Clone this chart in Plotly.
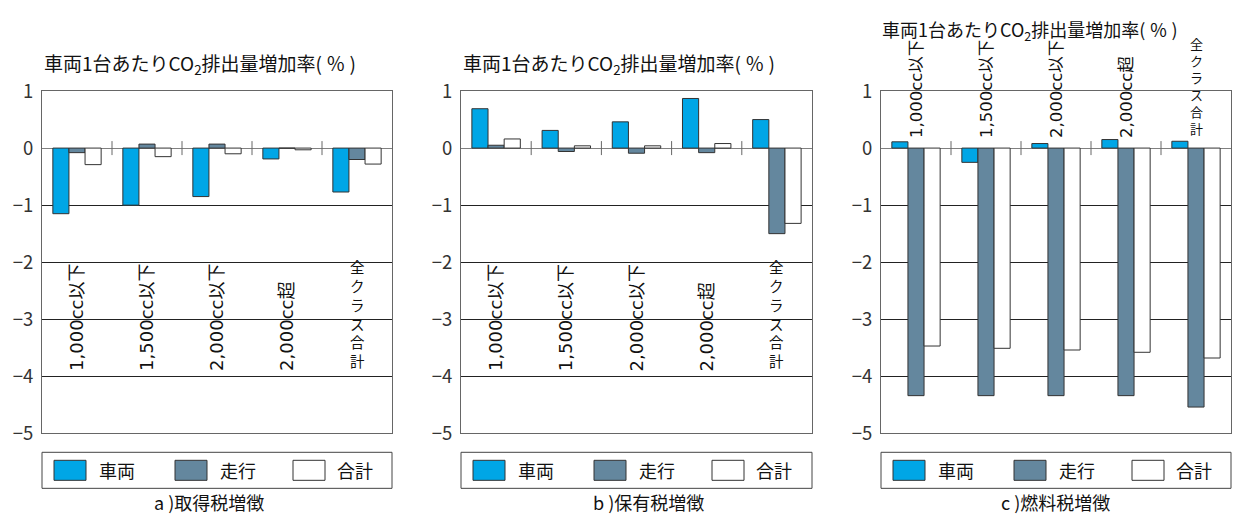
import plotly.graph_objects as go

# ---------------- data ----------------
categories = ["1,000cc以下", "1,500cc以下", "2,000cc以下", "2,000cc超", "全クラス合計"]
series_names = ["車両", "走行", "合計"]
series_colors = ["#00A6E6", "#64879E", "#FFFFFF"]

a_vehicle = [-1.15, -1.00, -0.85, -0.19, -0.77]
a_driving = [-0.08, 0.07, 0.07, 0.00, -0.20]
a_total = [-0.29, -0.15, -0.10, -0.03, -0.28]

b_vehicle = [0.69, 0.31, 0.46, 0.87, 0.50]
b_driving = [0.05, -0.06, -0.09, -0.08, -1.50]
b_total = [0.16, 0.04, 0.04, 0.08, -1.32]

c_vehicle = [0.11, -0.25, 0.08, 0.15, 0.12]
c_driving = [-4.34, -4.34, -4.34, -4.34, -4.54]
c_total = [-3.47, -3.51, -3.54, -3.58, -3.68]

panel_titles = ["a )取得税増徴", "b )保有税増徴", "c )燃料税増徴"]
y_title = "車両1台あたりCO<sub>2</sub>排出量増加率( ％ )"
y_tickvals = [1, 0, -1, -2, -3, -4, -5]
y_range = [-5, 1]

panels = [
    [a_vehicle, a_driving, a_total],
    [b_vehicle, b_driving, b_total],
    [c_vehicle, c_driving, c_total],
]

# ---------------- layout constants (target pixels) ----------------
W, H = 1233, 527
# the captured picture shows the page squeezed vertically: shown_y = 15 + 0.95 * page_y
Y_OFF, Y_SCALE = 15.0, 0.95
panel_x = [(42, 392), (461, 812), (881, 1231)]
plot_top, plot_bottom = 91, 433
title_x = [42, 461, 881]
title_y = [64, 64, None]          # None -> as high as possible
title_size = [19, 19, 18]
label_base = [-3.95, -3.95, 0.14]
label_size = [18, 18, 16.5]
stack_size = [14.5, 14.5, 13]
subtitle_x = [209, 649, 1055]
legend_top, legend_bottom = 452, 488
swatch_off = [12, 133, 251]
legend_text_off = [55, 176, 293]
swatch_w, swatch_top, swatch_bottom = 32, 460, 480

FONT = "Noto Sans CJK JP"
LATIN_FONT = "DejaVu Sans, Noto Sans CJK JP"
EDGE = "#333333"


def px(x):
    return x / W


def py(y):
    page_y = (y - Y_OFF) / Y_SCALE
    return min(1.0, max(0.0, 1 - page_y / H))


fig = go.Figure()
shapes = []
annotations = []

for p, series in enumerate(panels):
    ax = "" if p == 0 else str(p + 1)
    xname, yname = "x" + ax, "y" + ax
    for s, vals in enumerate(series):
        fig.add_trace(go.Bar(
            x=categories, y=vals, name=series_names[s],
            marker=dict(color=series_colors[s], line=dict(color=EDGE, width=1)),
            xaxis=xname, yaxis=yname, showlegend=False,
        ))
    x0, x1 = panel_x[p]
    fig.layout["xaxis" + ax] = dict(
        domain=[px(x0), px(x1)], anchor=yname, showticklabels=False,
        ticks="", showgrid=False, zeroline=False,
        showline=True, mirror=True, linecolor="#666666", linewidth=1,
        range=[-0.5, len(categories) - 0.5], fixedrange=True,
    )
    fig.layout["yaxis" + ax] = dict(
        domain=[py(plot_bottom), py(plot_top)], anchor=xname, range=y_range,
        tickvals=y_tickvals, ticks="", showgrid=True, gridcolor="#222222",
        gridwidth=1, zeroline=True, zerolinecolor="#808080", zerolinewidth=1,
        showline=True, mirror=True, linecolor="#666666", linewidth=1,
        tickfont=dict(family=FONT, size=18.5, color="#333333"),
        ticklabelstandoff=4, fixedrange=True,
    )
    for i in range(len(categories) - 1):
        shapes.append(dict(
            type="line", xref=xname, yref=yname, x0=i + 0.5, x1=i + 0.5,
            ysizemode="pixel", yanchor=0, y0=-7, y1=7,
            line=dict(color="#666666", width=1),
        ))
    for cat in categories:
        if any(ch.isdigit() for ch in cat):
            annotations.append(dict(
                x=cat, y=label_base[p], xref=xname, yref=yname, text=cat,
                textangle=-90, showarrow=False, xanchor="center", yanchor="bottom",
                font=dict(family=LATIN_FONT, size=label_size[p], color="#111111"),
            ))
        else:
            annotations.append(dict(
                x=cat, y=label_base[p], xref=xname, yref=yname,
                text="<br>".join(cat), showarrow=False,
                xanchor="center", yanchor="bottom",
                font=dict(family=FONT, size=stack_size[p], color="#111111"),
            ))
    if title_y[p] is None:
        annotations.append(dict(
            x=px(title_x[p]), y=1, xref="paper", yref="paper", text=y_title,
            showarrow=False, xanchor="left", yanchor="top", borderpad=0,
            font=dict(family=FONT, size=title_size[p], color="#111111"),
        ))
    else:
        annotations.append(dict(
            x=px(title_x[p]), y=py(title_y[p]), xref="paper", yref="paper",
            text=y_title, showarrow=False, xanchor="left", yanchor="middle",
            font=dict(family=FONT, size=title_size[p], color="#111111"),
        ))
    annotations.append(dict(
        x=px(subtitle_x[p]), y=0, xref="paper", yref="paper",
        text=panel_titles[p], showarrow=False, xanchor="center", yanchor="bottom",
        borderpad=0, font=dict(family=FONT, size=18, color="#111111"),
    ))
    shapes.append(dict(
        type="rect", xref="paper", yref="paper",
        x0=px(x0), x1=px(x1), y0=py(legend_bottom), y1=py(legend_top),
        line=dict(color="#444444", width=1), fillcolor="white",
    ))
    for s in range(len(series_names)):
        shapes.append(dict(
            type="rect", xref="paper", yref="paper",
            x0=px(x0 + swatch_off[s]), x1=px(x0 + swatch_off[s] + swatch_w),
            y0=py(swatch_bottom), y1=py(swatch_top),
            line=dict(color=EDGE, width=1), fillcolor=series_colors[s],
        ))
        annotations.append(dict(
            x=px(x0 + legend_text_off[s]), y=py((swatch_top + swatch_bottom) / 2),
            xref="paper", yref="paper", text=series_names[s], showarrow=False,
            xanchor="left", yanchor="middle",
            font=dict(family=FONT, size=18, color="#111111"),
        ))

fig.update_layout(
    width=W, height=H, margin=dict(l=0, r=0, t=0, b=0),
    paper_bgcolor="white", plot_bgcolor="white",
    barmode="group", bargap=0.31, bargroupgap=0,
    shapes=shapes, annotations=annotations, showlegend=False,
    font=dict(family=FONT),
)

post = (
    "var gd=document.getElementById('{plot_id}');"
    "document.documentElement.style.margin='0';"
    "document.documentElement.style.overflow='hidden';"
    "document.body.style.margin='0';"
    "document.body.style.overflow='hidden';"
    "gd.style.position='fixed';gd.style.top='0';gd.style.left='0';"
)

fig.write_html("out.html", config={"displayModeBar": False}, post_script=post)
